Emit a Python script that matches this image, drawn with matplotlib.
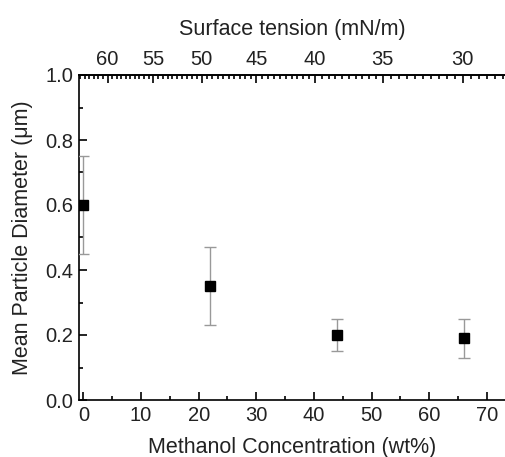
import numpy as np
import matplotlib
matplotlib.use("Agg")
import matplotlib.pyplot as plt
from matplotlib.ticker import MultipleLocator, FixedLocator, NullFormatter

plt.rcParams['font.family'] = ['Liberation Sans', 'DejaVu Sans']

# Data
methanol_wt = [0, 22, 44, 66]
diameter = [0.60, 0.35, 0.20, 0.19]
err_low = [0.15, 0.12, 0.05, 0.06]
err_high = [0.15, 0.12, 0.05, 0.06]

# Surface tension (top axis) vs methanol concentration
tension_values = [60, 55, 50, 45, 40, 35, 30]
tension_wt_pos = [4.2, 12.1, 20.5, 30.0, 40.2, 51.9, 65.8]

xp = np.array(tension_wt_pos, dtype=float)
fp = np.array(tension_values, dtype=float)


def _interp_extrap(x, xs, ys):
    x = np.asarray(x, dtype=float)
    y = np.interp(x, xs, ys)
    s0 = (ys[1] - ys[0]) / (xs[1] - xs[0])
    s1 = (ys[-1] - ys[-2]) / (xs[-1] - xs[-2])
    y = np.where(x < xs[0], ys[0] + s0 * (x - xs[0]), y)
    y = np.where(x > xs[-1], ys[-1] + s1 * (x - xs[-1]), y)
    return y


def wt_to_tension(x):
    return _interp_extrap(x, xp, fp)


def tension_to_wt(t):
    return _interp_extrap(t, fp[::-1], xp[::-1])


fig = plt.figure(figsize=(5.06, 4.57), dpi=100)
ax = fig.add_axes([79 / 506, 1 - 400 / 457, 1 - 79 / 506, (400 - 75) / 457])

ax.errorbar(methanol_wt, diameter, yerr=[err_low, err_high], fmt='s',
            color='black', ms=6.5, ecolor='#999999', elinewidth=1.0,
            capsize=4, capthick=1.0, zorder=3)

ax.set_xlim(-0.75, 73.3)
ax.set_ylim(0.0, 1.0)
ax.xaxis.set_major_locator(MultipleLocator(10))
ax.xaxis.set_minor_locator(MultipleLocator(5))
ax.yaxis.set_major_locator(MultipleLocator(0.2))
ax.yaxis.set_minor_locator(MultipleLocator(0.1))
ax.yaxis.set_major_formatter(matplotlib.ticker.FormatStrFormatter('%.1f'))

ax.tick_params(axis='both', which='both', direction='in', labelsize=14.5,
               width=1.2, color='black', labelcolor='#222222')
ax.tick_params(axis='both', which='major', length=6)
ax.tick_params(axis='both', which='minor', length=3)
ax.tick_params(axis='y', pad=4)
ax.tick_params(axis='x', pad=4)

for side in ['left', 'bottom', 'top']:
    ax.spines[side].set_linewidth(1.2)
ax.spines['right'].set_visible(False)

ax.set_xlabel('Methanol Concentration (wt%)', fontsize=15.5, labelpad=9,
              color='#222222')
ax.set_ylabel('Mean Particle Diameter (μm)', fontsize=15.5, labelpad=9,
              color='#222222')

sec = ax.secondary_xaxis('top', functions=(wt_to_tension, tension_to_wt))
sec.xaxis.set_major_locator(FixedLocator(tension_values))
sec.xaxis.set_minor_locator(MultipleLocator(0.5))
sec.xaxis.set_minor_formatter(NullFormatter())
sec.tick_params(axis='x', which='both', direction='in', labelsize=14.5,
                width=1.2, color='black', pad=4, labelcolor='#222222')
sec.tick_params(axis='x', which='major', length=6)
sec.tick_params(axis='x', which='minor', length=3)
sec.spines['top'].set_linewidth(1.2)
sec.set_xlabel('Surface tension (mN/m)', fontsize=15.5, labelpad=11,
               color='#222222')

fig.savefig('out.png', dpi=100)
